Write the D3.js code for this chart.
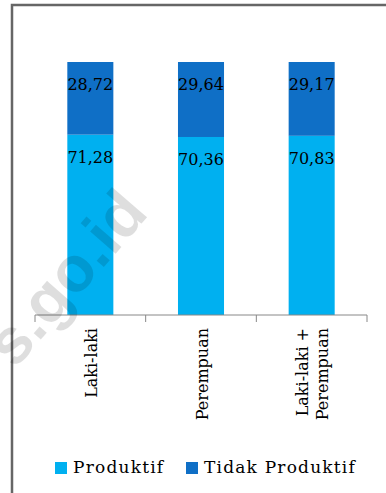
<!DOCTYPE html>
<html>
<head>
<meta charset="utf-8">
<script src="https://cdn.jsdelivr.net/npm/d3@7"></script>
<style>
  html, body { margin: 0; padding: 0; background: #fff; }
  svg { display: block; }
</style>
</head>
<body>
<svg id="chart" width="386" height="493"></svg>
<script>
// Categories (label lines) and percentage shares per series
const categories = ["Laki-laki", "Perempuan", "Laki-laki + Perempuan"];
const categoryLines = [["Laki-laki"], ["Perempuan"], ["Laki-laki +", "Perempuan"]];
const produktif = [71.28, 70.36, 70.83];
const tidakProduktif = [28.72, 29.64, 29.17];
const seriesNames = ["Produktif", "Tidak Produktif"];
const seriesColors = ["#00B0F0", "#0F6FC6"];

const svg = d3.select("#chart");
const serif = "'DejaVu Serif', 'Liberation Serif', serif";

// Outer frame (left and top edges visible)
svg.append("path")
  .attr("d", "M12,493 V5 H386")
  .attr("fill", "none")
  .attr("stroke", "#666")
  .attr("stroke-width", 2.5);

const x = d3.scaleBand().domain(categories).range([35, 367]).padding(0);
const y = d3.scaleLinear().domain([0, 100]).range([315, 62]);
const barInset = x.bandwidth() * 0.292;
const barW = x.bandwidth() - 2 * barInset;

const stackData = categories.map((c, i) => ({ cat: c, Produktif: produktif[i], "Tidak Produktif": tidakProduktif[i] }));
const stacked = d3.stack().keys(seriesNames)(stackData);

const g = svg.append("g");
stacked.forEach((layer, li) => {
  g.selectAll(null).data(layer).enter().append("rect")
    .attr("x", d => x(d.data.cat) + barInset)
    .attr("width", barW)
    .attr("y", d => y(d[1]))
    .attr("height", d => y(d[0]) - y(d[1]))
    .attr("fill", seriesColors[li]);
});

// Value labels near the top of each segment
stacked.forEach((layer, li) => {
  g.selectAll(null).data(layer).enter().append("text")
    .attr("x", d => x(d.data.cat) + x.bandwidth() / 2)
    .attr("y", d => y(d[1]) + 28)
    .attr("text-anchor", "middle")
    .attr("font-family", serif)
    .attr("font-size", 16)
    .attr("fill", "#000")
    .text(d => d3.format(".2f")(d[1] - d[0]).replace(".", ","));
});

// Category axis with ticks at band boundaries
const axisG = svg.append("g").attr("transform", `translate(0,${y(0)})`);
axisG.append("line")
  .attr("x1", 35).attr("x2", 367)
  .attr("stroke", "#888").attr("stroke-width", 1);
const bounds = categories.map(c => x(c)).concat([x.range()[1]]);
axisG.selectAll(null).data(bounds).enter().append("line")
  .attr("x1", d => d).attr("x2", d => d)
  .attr("y1", 0).attr("y2", 7)
  .attr("stroke", "#888").attr("stroke-width", 1);

// Rotated category labels
categories.forEach((c, i) => {
  const lines = categoryLines[i];
  const cx = x(c) + x.bandwidth() / 2;
  const t = svg.append("text")
    .attr("transform", `translate(${cx},328) rotate(-90)`)
    .attr("text-anchor", "end")
    .attr("font-family", serif)
    .attr("font-size", 16)
    .attr("fill", "#000");
  const lh = 20;
  lines.forEach((ln, k) => {
    t.append("tspan")
      .attr("x", 0)
      .attr("y", 6.5 + (k - (lines.length - 1) / 2) * lh)
      .text(ln);
  });
});

// Legend
const legendX = [55, 186];
seriesNames.forEach((s, i) => {
  svg.append("rect")
    .attr("x", legendX[i]).attr("y", 462)
    .attr("width", 12).attr("height", 12)
    .attr("fill", seriesColors[i]);
  svg.append("text")
    .attr("x", legendX[i] + 18).attr("y", 473)
    .attr("font-family", serif)
    .attr("font-size", 17)
    .attr("letter-spacing", 1.2)
    .attr("fill", "#000")
    .text(s);
});

// Source watermark
svg.append("text")
  .attr("transform", "translate(150,214) rotate(-49)")
  .attr("text-anchor", "end")
  .attr("font-family", "'Liberation Sans', Arial, sans-serif")
  .attr("font-weight", "bold")
  .attr("font-size", 64)
  .attr("fill", "#000")
  .attr("fill-opacity", 0.13)
  .text("s.go.id");
</script>
</body>
</html>
